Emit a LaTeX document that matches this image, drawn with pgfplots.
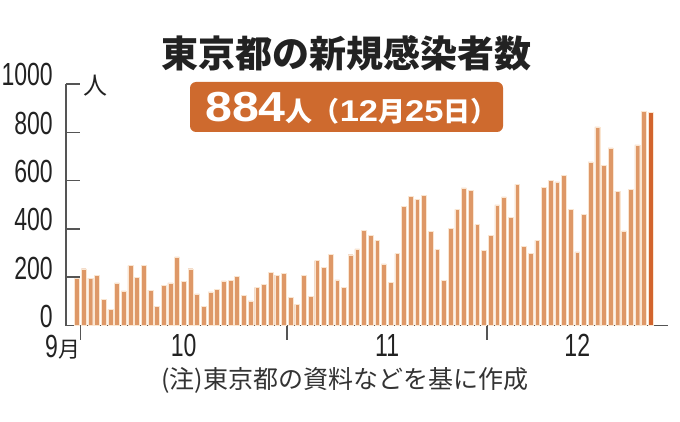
\documentclass[border=0pt]{standalone}
\usepackage{pgfplots}
\pgfplotsset{compat=1.18}
\usepackage{fontspec}
\setmainfont{Liberation Sans}
\newfontfamily\cond[FakeStretch=0.72]{Liberation Sans}
\newfontfamily\numb[FakeStretch=1.15]{Liberation Sans}
\newfontfamily\cjk{Noto Sans CJK JP}

\definecolor{barc}{RGB}{222,152,103}
\definecolor{lastc}{RGB}{210,100,45}
\definecolor{badge}{RGB}{206,106,46}
\definecolor{edge}{RGB}{250,230,210}
\definecolor{axc}{RGB}{85,85,85}
\definecolor{txt}{RGB}{34,34,34}

% daily new cases, day 0 = Sep 30
\pgfplotstableread{
d v
0 194
1 235
2 196
3 207
4 108
5 66
6 177
7 143
8 248
9 200
10 249
11 146
12 78
13 166
14 177
15 284
16 184
17 235
18 131
19 78
20 139
21 150
22 185
23 186
24 203
25 124
26 102
27 158
28 171
29 221
30 209
31 215
32 116
33 87
34 209
35 122
36 269
37 242
38 294
39 189
40 157
41 293
42 317
43 393
44 374
45 352
46 255
47 180
48 298
49 493
50 534
51 522
52 539
53 391
54 314
55 186
56 401
57 481
58 570
59 561
60 418
61 311
62 372
63 500
64 533
65 449
66 584
67 327
68 299
69 352
70 572
71 602
72 595
73 621
74 480
75 305
76 460
77 678
78 822
79 664
80 736
81 556
82 392
83 563
84 748
85 888
}\daily
\pgfplotstableread{
d v
86 884
}\latest

\begin{document}
\begin{tikzpicture}
\path[use as bounding box] (0pt,0pt) rectangle (680pt,-422pt);

\node[anchor=base, inner sep=0pt, text=txt] at (346pt,-67.5pt)
  {\cjk\bfseries\fontsize{37}{37}\selectfont 東京都の新規感染者数};

\fill[badge, rounded corners=6pt] (190pt,-82pt) rectangle (503pt,-132pt);
\node[anchor=base west, inner sep=0pt, text=white] at (205pt,-122pt)
  {{\numb\bfseries\fontsize{42}{42}\selectfont 884}%
   {\cjk\bfseries\fontsize{27}{27}\selectfont 人（}%
   {\numb\bfseries\fontsize{30}{30}\selectfont 12}%
   {\cjk\bfseries\fontsize{27}{27}\selectfont 月}%
   {\numb\bfseries\fontsize{30}{30}\selectfont 25}%
   {\cjk\bfseries\fontsize{27}{27}\selectfont 日）}};

\begin{axis}[
  at={(66pt,-325.5pt)}, anchor=south west,
  scale only axis, width=602pt, height=241.5pt,
  xmin=-1.65, xmax=88.6, ymin=0, ymax=1000,
  axis x line*=bottom, axis y line*=left,
  axis line style={draw=axc, line width=1.3pt},
  every tick/.style={draw=axc, line width=1.5pt},
  ytick={0,200,400,600,800,1000},
  yticklabels={0,200,400,600,800,1000},
  ytick align=inside,
  major tick length=14pt,
  xtick={0.5,31.5,61.5},
  xticklabels={},
  xtick align=outside,
  extra x ticks={16,46.5,75},
  extra x tick labels={10,11,12},
  extra x tick style={major tick length=0pt},
  yticklabel style={font=\cond\fontsize{32}{32}\selectfont, anchor=base east,
    inner sep=0pt, xshift=-13pt, yshift=-2pt, text=txt},
  xticklabel style={font=\cond\fontsize{32}{32}\selectfont, anchor=base,
    inner sep=0pt, yshift=-31pt, text=txt},
  clip=false,
]
\addplot[ybar, bar shift=0pt, bar width=0.72, fill=barc, draw=edge, line width=0.4pt]
  table[x=d, y=v] {\daily};
\addplot[ybar, bar shift=0pt, bar width=0.72, fill=lastc, draw=edge, line width=0.4pt]
  table[x=d, y=v] {\latest};
\end{axis}

\node[anchor=base west, inner sep=0pt, text=txt] at (83pt,-95pt)
  {\cjk\fontsize{24}{24}\selectfont 人};
\node[anchor=base west, inner sep=0pt, text=txt] at (45pt,-357pt)
  {\cond\fontsize{32}{32}\selectfont 9{\cjk\fontsize{22}{22}\selectfont 月}};

\node[anchor=base west, inner sep=0pt, text={rgb,255:red,51;green,51;blue,51}] at (161pt,-388pt)
  {\cjk\fontsize{25}{25}\selectfont (注)東京都の資料などを基に作成};
\end{tikzpicture}
\end{document}
